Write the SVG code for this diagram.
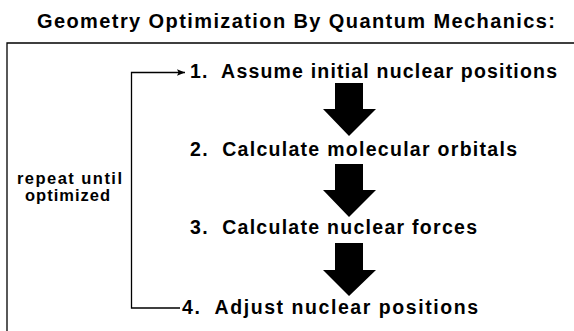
<svg xmlns="http://www.w3.org/2000/svg" width="574" height="331" viewBox="0 0 574 331">
<style>
  .t { font-family: "Liberation Sans", Arial, sans-serif; font-weight: bold; fill: #000; }
  .title { font-size: 20px; }
  .step { font-size: 19.5px; }
  .side { font-size: 16.5px; }
  .ln { stroke: #000; stroke-width: 1.3; fill: none; }
  .blk { fill: #000; }
</style>
<defs>
  <marker id="ah" viewBox="0 0 10 10" refX="10" refY="5" markerWidth="8" markerHeight="8" markerUnits="userSpaceOnUse" orient="auto">
    <path d="M0,1 L10,5 L0,9 L2,5 z" fill="#000"/>
  </marker>
</defs>
<rect width="574" height="331" fill="#fff"/>
<g id="title">
  <text class="t title" x="37" y="28" textLength="518" lengthAdjust="spacing">Geometry Optimization By Quantum Mechanics:</text>
</g>
<g id="frame">
  <path class="ln" d="M7,331 V43 H574" stroke-width="1.6"/>
</g>
<g id="step1">
  <text class="t step" x="190" y="78" textLength="367" lengthAdjust="spacing" xml:space="preserve">1.  Assume initial nuclear positions</text>
</g>
<g id="step2">
  <text class="t step" x="190" y="156" textLength="327" lengthAdjust="spacing" xml:space="preserve">2.  Calculate molecular orbitals</text>
</g>
<g id="step3">
  <text class="t step" x="190" y="234" textLength="287" lengthAdjust="spacing" xml:space="preserve">3.  Calculate nuclear forces</text>
</g>
<g id="step4">
  <text class="t step" x="182" y="314" textLength="296" lengthAdjust="spacing" xml:space="preserve">4.  Adjust nuclear positions</text>
</g>
<g id="repeat">
  <text class="t side" x="17" y="184" textLength="105" lengthAdjust="spacing">repeat until</text>
  <text class="t side" x="25" y="201" textLength="85" lengthAdjust="spacing">optimized</text>
</g>
<g id="connectors">
  <path class="ln" d="M180,308 H131.5 V72.5 H185" marker-end="url(#ah)"/>
  <path class="blk" d="M335,83 H363 V109 H376 L349,136 L323,109 H335 Z"/>
  <path class="blk" d="M335,164 H363 V190 H376 L349,217 L323,190 H335 Z"/>
  <path class="blk" d="M335,243 H363 V270 H376 L349,296 L323,270 H335 Z"/>
</g>
</svg>
